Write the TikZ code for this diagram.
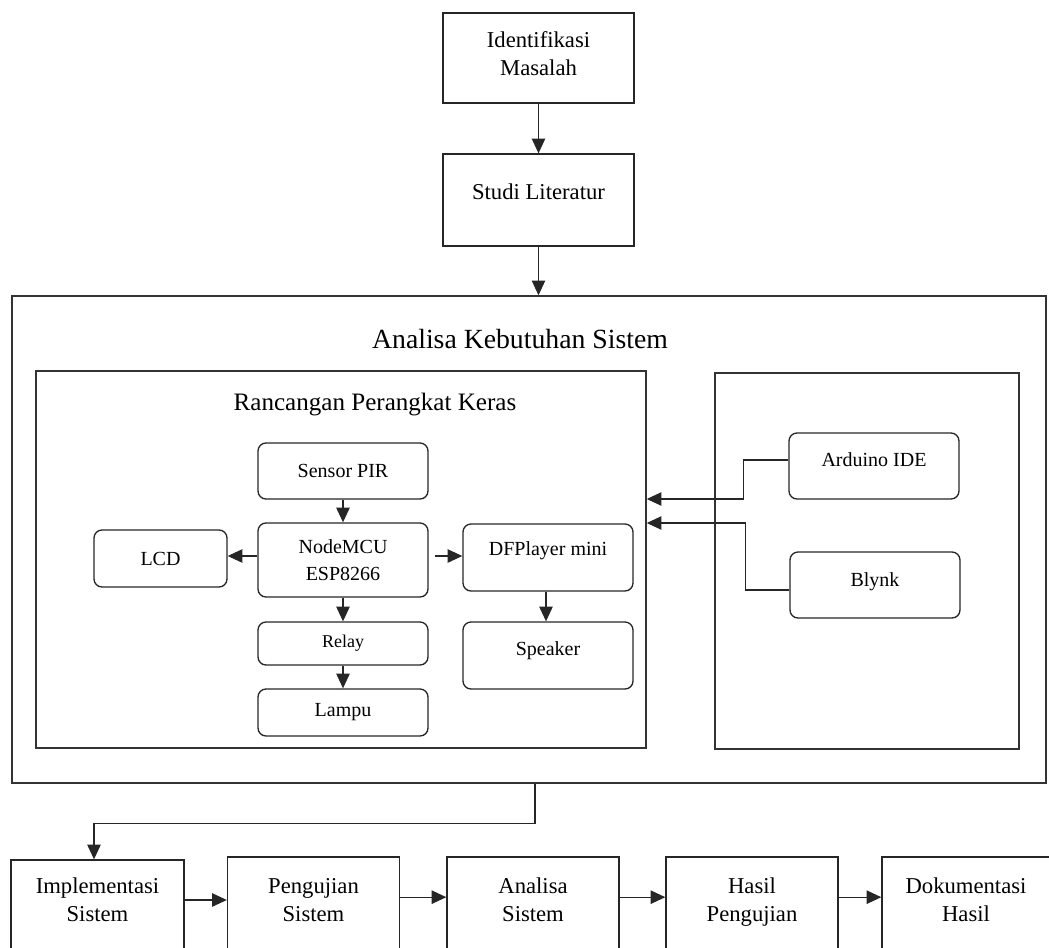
\documentclass[tikz,border=0pt]{standalone}
\usepackage{fontspec}
\setmainfont{Liberation Serif}
\usetikzlibrary{arrows.meta,positioning}

\newcommand{\fntmain}{\fontsize{17}{21}\selectfont}
\newcommand{\fntin}{\fontsize{15}{20.25}\selectfont}
\newcommand{\fntsmall}{\fontsize{13.5}{16}\selectfont}
\newcommand{\fnttitle}{\fontsize{20.8}{25}\selectfont}
\newcommand{\fntsub}{\fontsize{18.8}{22}\selectfont}

\tikzset{
  box/.style={draw=black!85, line width=1pt, inner sep=0pt, align=center, font=\fntmain},
  rbox/.style={draw=black!85, line width=1pt, inner sep=0pt, rounded corners=6pt, align=center, font=\fntin},
  frame/.style={draw=black!80, line width=1.1pt, inner sep=0pt},
  arr/.style={-{Triangle[length=11pt,width=10pt]}, line width=1pt, draw=black!85},
  lift/.style={text depth=#1},
}

\begin{document}
\begin{tikzpicture}[x=0.75pt, y=-0.75pt]
  \useasboundingbox (0,0) rectangle (1049,947);
  \clip (0,0) rectangle (1049,947);

  % alur atas
  \node[box, minimum width=143.25pt, minimum height=67.5pt, lift=6pt] (idm) at (538.5,58) {Identifikasi\\Masalah};
  \node[box, minimum width=143.25pt, minimum height=69pt, lift=12pt] (studi) at (538.5,200) {Studi Literatur};

  % analisa kebutuhan
  \node[frame, minimum width=775.5pt, minimum height=365.25pt] (akb) at (529,539.5) {};
  \node[font=\fnttitle] (akbtitle) at (520,339) {Analisa Kebutuhan Sistem};

  \node[frame, minimum width=457.5pt, minimum height=282.75pt] (rpk) at (341,559.5) {};
  \node[font=\fntsub] (rpktitle) at (375,404) {Rancangan Perangkat Keras};
  \node[frame, minimum width=228pt, minimum height=282pt] (sw) at (867,561) {};

  % perangkat keras
  \node[rbox, minimum width=127.5pt, minimum height=42pt] (pir) at (343,471) {Sensor PIR};
  \node[rbox, minimum width=127.5pt, minimum height=55.5pt] (mcu) at (343,560) {NodeMCU\\ESP8266};
  \node[rbox, minimum width=99.75pt, minimum height=42.75pt] (lcd) at (160.5,558.5) {LCD};
  \node[rbox, minimum width=127.5pt, minimum height=32.25pt, font=\fntsmall] (relay) at (343,643.5) {Relay};
  \node[rbox, minimum width=127.5pt, minimum height=35.25pt] (lampu) at (343,712.5) {Lampu};
  \node[rbox, minimum width=127.5pt, minimum height=50.25pt, lift=14pt] (dfp) at (548,557.5) {DFPlayer mini};
  \node[rbox, minimum width=127.5pt, minimum height=50.25pt, lift=11pt] (spk) at (548,655.5) {Speaker};

  % perangkat lunak
  \node[rbox, minimum width=127.5pt, minimum height=49.5pt, lift=9pt] (ard) at (874,466) {Arduino IDE};
  \node[rbox, minimum width=127.5pt, minimum height=49.5pt, lift=7.5pt] (blynk) at (875,585) {Blynk};

  % alur bawah
  \node[box, minimum width=129.75pt, minimum height=75pt, lift=15pt] (impl) at (97.5,910) {Implementasi\\Sistem};
  \node[box, minimum width=129pt, minimum height=77.25pt, lift=12.75pt] (uji) at (313.5,908.5) {Pengujian\\Sistem};
  \node[box, minimum width=129pt, minimum height=77.25pt, lift=12.75pt] (ana) at (533,908.5) {Analisa\\Sistem};
  \node[box, minimum width=129pt, minimum height=77.25pt, lift=12.75pt] (hsl) at (752,908.5) {Hasil\\Pengujian};
  \node[box, minimum width=126pt, minimum height=77.25pt, lift=12.75pt] (dok) at (966,908.5) {Dokumentasi\\Hasil};

  \coordinate (akbout) at (akb.south -| 535,0);
  \coordinate (inA) at (rpk.east |- 0,499);
  \coordinate (inB) at (rpk.east |- 0,523);

  % panah
  \draw[arr] (idm) -- (studi);
  \draw[arr] (studi.south) -- (studi.south |- akb.north);
  \draw[arr] (pir) -- (mcu);
  \draw[arr] (mcu.west) ++(0,-4) -- (lcd.east |- 0,556);
  \draw[arr] (mcu.east) ++(6,-4) -- (dfp.west |- 0,556);
  \draw[arr] (mcu) -- (relay);
  \draw[arr] (relay) -- (lampu);
  \draw[arr] (dfp.south -| 546,0) -- (spk.north -| 546,0);
  \draw[arr] (ard.west) ++(0,-6) -- ++(-45,0) |- (inA);
  \draw[arr] (blynk.west) ++(0,5) -- ++(-44,0) |- (inB);
  \draw[arr] (akbout) -- ++(0,40) -| (impl.north -| 94,0);
  \draw[arr] ([yshift=7.5pt]impl.east) -- ([yshift=7.5pt]impl.east -| uji.west);
  \draw[arr] ([yshift=8.5pt]uji.east) -- ([yshift=8.5pt]uji.east -| ana.west);
  \draw[arr] ([yshift=8.5pt]ana.east) -- ([yshift=8.5pt]ana.east -| hsl.west);
  \draw[arr] ([yshift=8.5pt]hsl.east) -- ([yshift=8.5pt]hsl.east -| dok.west);
\end{tikzpicture}
\end{document}
